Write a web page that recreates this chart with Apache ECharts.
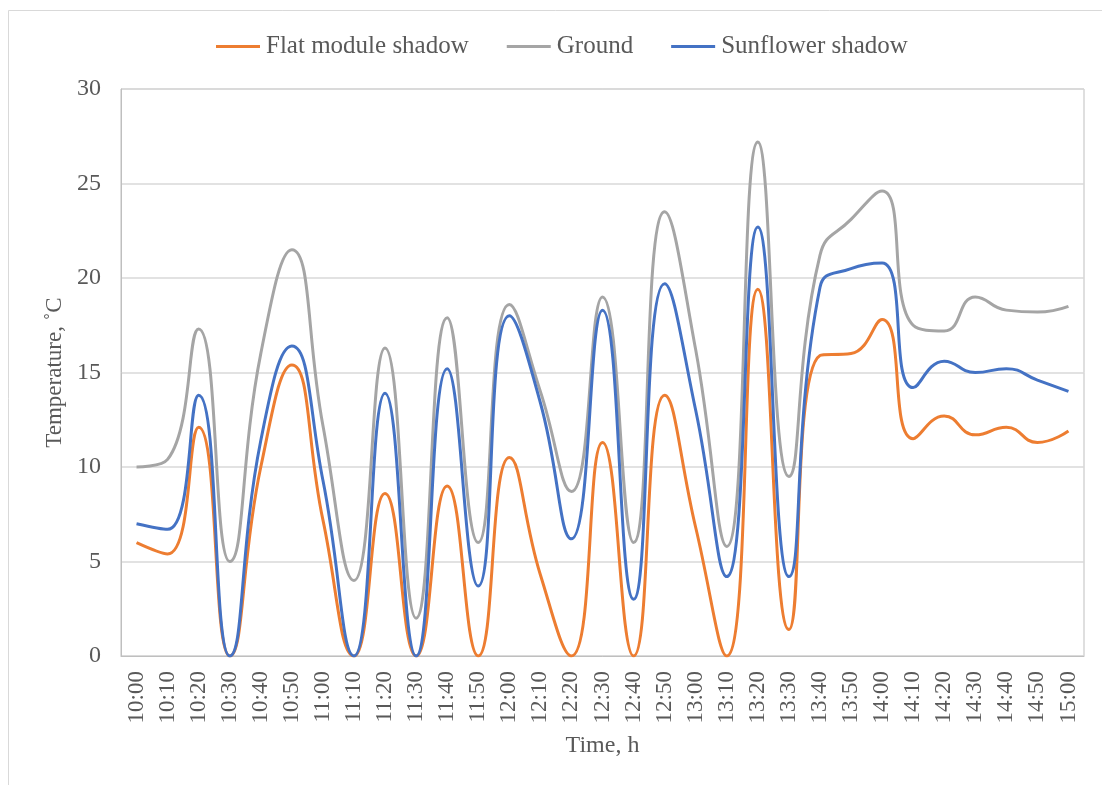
<!DOCTYPE html>
<html>
<head>
<meta charset="utf-8">
<script src="https://cdn.jsdelivr.net/npm/echarts@6/dist/echarts.min.js"></script>
<style>
html,body{margin:0;padding:0;background:#fff;}
#chart{width:1102px;height:785px;}
</style>
</head>
<body>
<div id="chart"></div>
<script>
const categories = ['10:00','10:10','10:20','10:30','10:40','10:50','11:00','11:10','11:20','11:30','11:40','11:50','12:00','12:10','12:20','12:30','12:40','12:50','13:00','13:10','13:20','13:30','13:40','13:50','14:00','14:10','14:20','14:30','14:40','14:50','15:00'];
const flatShadow = [6.0,5.4,12.1,0,10.0,15.4,7.2,0,8.6,0,9.0,0,10.5,4.3,0,11.3,0,13.8,6.8,0,19.4,1.4,15.9,16.0,17.8,11.5,12.7,11.7,12.1,11.3,11.9];
const ground = [10.0,10.4,17.3,5.0,16.0,21.5,12.2,4.0,16.3,2.0,17.9,6.0,18.6,14.0,8.7,19.0,6.0,23.5,16.2,5.8,27.2,9.5,21.2,23.1,24.6,17.5,17.2,19.0,18.3,18.2,18.5];
const sunflowerShadow = [7.0,6.7,13.8,0,11.4,16.4,9.3,0,13.9,0,15.2,3.7,18.0,13.4,6.2,18.3,3.0,19.7,13.0,4.2,22.7,4.2,19.5,20.5,20.8,14.2,15.6,15.0,15.2,14.6,14.0];
const seriesNames = ['Flat module shadow','Ground','Sunflower shadow'];
const yTicks = {min:0, max:30, interval:5};

const FONT = "'Liberation Serif','Times New Roman',serif";
const TXT = '#595959';
const chart = echarts.init(document.getElementById('chart'));
function mk(name, data, color){
  return {name:name, type:'line', data:data, smooth:0.5, symbol:'none',
    lineStyle:{color:color, width:3}, itemStyle:{color:color}, clip:true};
}
chart.setOption({
  animation:false,
  backgroundColor:'#fff',
  graphic:[{type:'rect', shape:{x:8.5,y:10.5,width:1110,height:800}, style:{fill:'none', stroke:'#d9d9d9', lineWidth:1}, silent:true}],
  legend:{
    top:29, left:211, icon:'rect', itemWidth:44, itemHeight:3, itemGap:38,
    textStyle:{fontFamily:FONT, fontSize:25, color:TXT, padding:[0,0,0,1]},
    data:seriesNames
  },
  grid:{left:121, right:18, top:89, bottom:129, show:true, borderColor:'#bfbfbf', borderWidth:1},
  xAxis:{
    type:'category', data:categories, boundaryGap:true,
    axisLine:{lineStyle:{color:'#bfbfbf'}}, axisTick:{show:false},
    axisLabel:{rotate:90, interval:0, margin:15, fontFamily:FONT, fontSize:23, color:TXT},
    name:'Time, h', nameLocation:'middle', nameGap:78,
    nameTextStyle:{fontFamily:FONT, fontSize:24, color:TXT}
  },
  yAxis:{
    type:'value', min:yTicks.min, max:yTicks.max, interval:yTicks.interval,
    axisLine:{show:true, lineStyle:{color:'#bfbfbf'}}, axisTick:{show:false},
    splitLine:{lineStyle:{color:'#d9d9d9', width:1.5}},
    axisLabel:{margin:20, fontFamily:FONT, fontSize:24, color:TXT},
    name:'Temperature, ˚C', nameLocation:'middle', nameGap:54,
    nameTextStyle:{fontFamily:FONT, fontSize:23, color:TXT}
  },
  series:[
    mk(seriesNames[0], flatShadow, '#ED7D31'),
    mk(seriesNames[1], ground, '#A5A5A5'),
    mk(seriesNames[2], sunflowerShadow, '#4472C4')
  ]
});
</script>
</body>
</html>
